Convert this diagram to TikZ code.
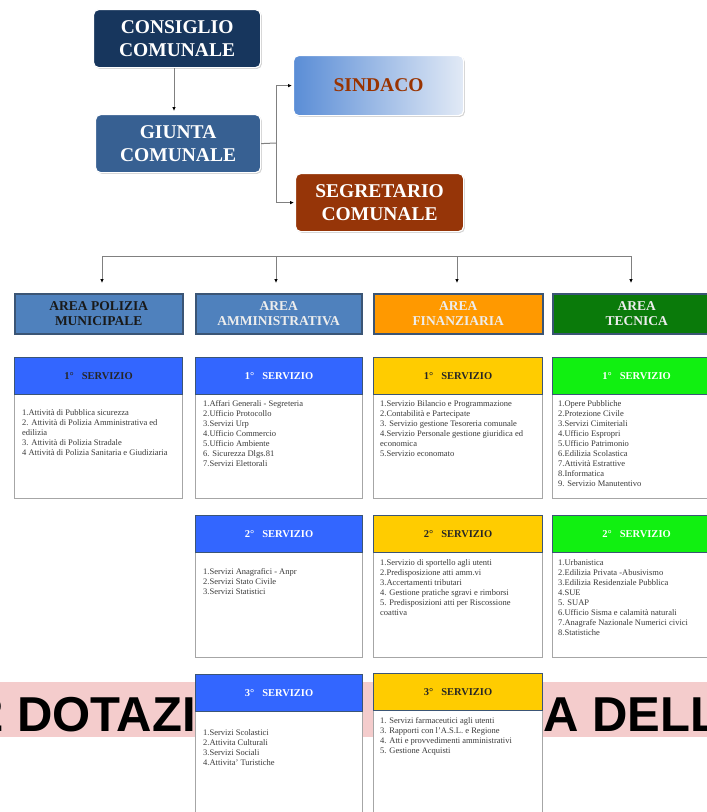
\documentclass[tikz,border=0pt]{standalone}
\usepackage{fontspec}
\setmainfont{Liberation Serif}
\newfontfamily\bannerfont{Liberation Sans}
\usetikzlibrary{arrows.meta,shadows}
\definecolor{cNavy}{HTML}{17365D}
\definecolor{cGiunta}{HTML}{376092}
\definecolor{cSinA}{HTML}{5A8DD6}
\definecolor{cSinB}{HTML}{E2EAF6}
\definecolor{cSinText}{HTML}{993300}
\definecolor{cSeg}{HTML}{963508}
\definecolor{cArea}{HTML}{4F81BD}
\definecolor{cAreaBorder}{HTML}{3B5575}
\definecolor{cOrange}{HTML}{FF9900}
\definecolor{cDGreen}{HTML}{0A7A0A}
\definecolor{cBlue}{HTML}{3366FF}
\definecolor{cYellow}{HTML}{FFCC00}
\definecolor{cGreen}{HTML}{11F011}
\definecolor{cBody}{HTML}{A6A6A6}
\definecolor{cTxt}{HTML}{3A3A3A}
\definecolor{cLightTxt}{HTML}{EDEDED}
\definecolor{cPink}{HTML}{F4CCCC}
\definecolor{cLine}{HTML}{808080}
\begin{document}
\begin{tikzpicture}[x=1pt,y=-1pt,
  topbox/.style={rounded corners=5pt, draw=white, line width=1.2pt,
    drop shadow={shadow xshift=1.3pt, shadow yshift=-1.3pt, opacity=0.35},
    font=\fontsize{19.5}{22.5}\selectfont\bfseries, text=white, align=center,
    inner sep=0pt, anchor=north west},
  areabox/.style={draw=cAreaBorder, line width=1.5pt, anchor=north west,
    minimum height=40pt, inner sep=0pt, align=center,
    font=\fontsize{13.5}{15.5}\selectfont\bfseries},
  servhead/.style={draw=cAreaBorder, line width=1.2pt, anchor=north west,
    minimum height=37pt, inner sep=0pt, align=center,
    font=\fontsize{10.5}{12}\selectfont\bfseries},
  servbody/.style={draw=cBody, line width=0.8pt, fill=white, anchor=north west, inner sep=0pt},
  bodytext/.style={anchor=north west, inner sep=0pt, align=left, text=cTxt,
    font=\fontsize{8.5}{10}\selectfont},
  conn/.style={draw=cLine, line width=1pt},
  arr/.style={conn, -{Latex[length=4pt,width=3.6pt,fill=black,color=black]}},
  bannertext/.style={anchor=base west, inner sep=0pt,
    font=\bannerfont\bfseries\fontsize{49}{51}\selectfont, text=black}
]
\clip (0,0) rectangle (707,812);
\fill[white] (0,0) rectangle (707,812);

% banner behind
\fill[cPink] (0,682) rectangle (707,737);
\node[bannertext] (ban1) at (-24,731) {2 DOTAZI};
\node[bannertext] (ban2) at (543,731) {A DELL};

% top boxes
\node[topbox, fill=cNavy, minimum width=167pt, minimum height=58pt] (consiglio) at (93,9) {CONSIGLIO\\COMUNALE};
\node[topbox, fill=cGiunta, minimum width=165pt, minimum height=58pt] (giunta) at (95,114) {GIUNTA\\COMUNALE};
\node[topbox, left color=cSinA, right color=cSinB, minimum width=170pt, minimum height=60pt, text=cSinText] (sindaco) at (293,55) {SINDACO};
\node[topbox, fill=cSeg, minimum width=168pt, minimum height=58pt] (segretario) at (295,173) {SEGRETARIO\\COMUNALE};

\coordinate (cx) at (174,66);
\draw[arr, shorten >=3pt] (consiglio.south -| cx) -- (giunta.north -| cx);
\coordinate (elb) at (276,143);
\draw[conn] (giunta.east) -- (elb);
\draw[arr, shorten >=1pt] (elb) |- (sindaco.west);
\draw[arr, shorten >=1pt] (elb) |- (segretario.west);

% area boxes
\node[areabox, fill=cArea, minimum width=168pt, text=black!90] (area1) at (14,293) {AREA POLIZIA\\MUNICIPALE};
\node[areabox, fill=cArea, minimum width=166pt, text=cLightTxt] (area2) at (195,293) {AREA\\AMMINISTRATIVA};
\node[areabox, fill=cOrange, minimum width=169pt, text=cLightTxt] (area3) at (373,293) {AREA\\FINANZIARIA};
\node[areabox, fill=cDGreen, minimum width=168pt, text=cLightTxt] (area4) at (552,293) {AREA\\TECNICA};

% bus
\coordinate (b1) at (102,256);
\coordinate (b2) at (276,256);
\coordinate (b3) at (457,256);
\coordinate (b4) at (631,256);
\draw[conn] (b1) -- (b4);
\draw[arr, shorten >=10pt] (b1) -- (b1 |- area1.north);
\draw[arr, shorten >=10pt] (b2) -- (b2 |- area2.north);
\draw[arr, shorten >=10pt] (b3) -- (b3 |- area3.north);
\draw[arr, shorten >=10pt] (b4) -- (b4 |- area4.north);

% row 1
\node[servbody, minimum width=168pt, minimum height=104pt] (b11) at (14,394) {};
\node[servhead, fill=cBlue, minimum width=168pt, text=black!85] (h11) at (14,357) {1°\ \ \ SERVIZIO};
\node[bodytext] (t11) at (22,409) {1.Attività di Pubblica sicurezza\\2. Attività di Polizia Amministrativa ed\\edilizia\\3. Attività di Polizia Stradale\\4 Attività di Polizia Sanitaria e Giudiziaria};

\node[servbody, minimum width=167pt, minimum height=104pt] (b21) at (195,394) {};
\node[servhead, fill=cBlue, minimum width=167pt, text=white] (h21) at (195,357) {1°\ \ \ SERVIZIO};
\node[bodytext] (t21) at (203,400) {1.Affari Generali - Segreteria\\2.Ufficio Protocollo\\3.Servizi Urp\\4.Ufficio Commercio\\5.Ufficio Ambiente\\6. Sicurezza Dlgs.81\\7.Servizi Elettorali};

\node[servbody, minimum width=169pt, minimum height=104pt] (b31) at (373,394) {};
\node[servhead, fill=cYellow, minimum width=169pt, text=black!85] (h31) at (373,357) {1°\ \ \ SERVIZIO};
\node[bodytext] (t31) at (380,400) {1.Servizio Bilancio e Programmazione\\2.Contabilità e Partecipate\\3. Servizio gestione Tesoreria comunale\\4.Servizio Personale gestione giuridica ed\\economica\\5.Servizio economato};

\node[servbody, minimum width=168pt, minimum height=104pt] (b41) at (552,394) {};
\node[servhead, fill=cGreen, minimum width=168pt, text=white] (h41) at (552,357) {1°\ \ \ SERVIZIO};
\node[bodytext] (t41) at (558,400) {1.Opere Pubbliche\\2.Protezione Civile\\3.Servizi Cimiteriali\\4.Ufficio Espropri\\5.Ufficio Patrimonio\\6.Edilizia Scolastica\\7.Attività Estrattive\\8.Informatica\\9. Servizio Manutentivo};

% row 2
\node[servbody, minimum width=167pt, minimum height=105pt] (b22) at (195,552) {};
\node[servhead, fill=cBlue, minimum width=167pt, text=white] (h22) at (195,515) {2°\ \ \ SERVIZIO};
\node[bodytext] (t22) at (203,568) {1.Servizi Anagrafici - Anpr\\2.Servizi Stato Civile\\3.Servizi Statistici};

\node[servbody, minimum width=169pt, minimum height=105pt] (b32) at (373,552) {};
\node[servhead, fill=cYellow, minimum width=169pt, text=black!85] (h32) at (373,515) {2°\ \ \ SERVIZIO};
\node[bodytext] (t32) at (380,559) {1.Servizio di sportello agli utenti\\2.Predisposizione atti amm.vi\\3.Accertamenti tributari\\4. Gestione pratiche sgravi e rimborsi\\5. Predisposizioni atti per Riscossione\\coattiva};

\node[servbody, minimum width=168pt, minimum height=105pt] (b42) at (552,552) {};
\node[servhead, fill=cGreen, minimum width=168pt, text=white] (h42) at (552,515) {2°\ \ \ SERVIZIO};
\node[bodytext] (t42) at (558,559) {1.Urbanistica\\2.Edilizia Privata -Abusivismo\\3.Edilizia Residenziale Pubblica\\4.SUE\\5. SUAP\\6.Ufficio Sisma e calamità naturali\\7.Anagrafe Nazionale Numerici civici\\8.Statistiche};

% row 3
\node[servbody, minimum width=167pt, minimum height=120pt] (b23) at (195,711) {};
\node[servhead, fill=cBlue, minimum width=167pt, text=white] (h23) at (195,674) {3°\ \ \ SERVIZIO};
\node[bodytext] (t23) at (203,729) {1.Servizi Scolastici\\2.Attivita Culturali\\3.Servizi Sociali\\4.Attivita' Turistiche};

\node[servbody, minimum width=169pt, minimum height=120pt] (b33) at (373,710) {};
\node[servhead, fill=cYellow, minimum width=169pt, text=black!85] (h33) at (373,673) {3°\ \ \ SERVIZIO};
\node[bodytext] (t33) at (380,717) {1. Servizi farmaceutici agli utenti\\3. Rapporti con l'A.S.L. e Regione\\4. Atti e provvedimenti amministrativi\\5. Gestione Acquisti};
\end{tikzpicture}
\end{document}
